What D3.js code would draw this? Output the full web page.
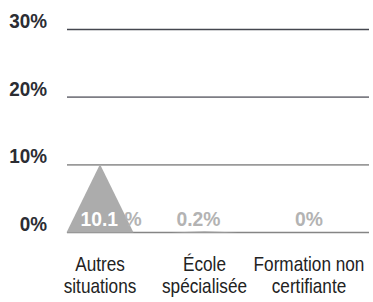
<!DOCTYPE html>
<html><head><meta charset="utf-8">
<script src="https://cdn.jsdelivr.net/npm/d3@7"></script>
<style>
html,body{margin:0;padding:0;background:#fff;}
svg{display:block;}
</style></head>
<body>
<svg id="chart" width="373" height="302"></svg>
<script>
const categories = [["Autres","situations"],["École","spécialisée"],["Formation non","certifiante"]];
const values = [10.1, 0.2, 0];
const valueLabels = ["10.1", "0.2", "0"];
const yTicks = [0, 10, 20, 30];
const yTickLabels = ["0%", "10%", "20%", "30%"];
const gridColors = ["#858585", "#9a9a9a", "#7d7d84", "#45474f"];

const svg = d3.select("#chart");
const gridLeft = 67, gridRight = 369;
const keys = categories.map(c => c.join(" "));

const y = d3.scaleLinear().domain([0, 30]).range([232.5, 29.5]);
const x = d3.scalePoint().domain(keys).range([100, 309]);
const halfW = 33.5;

const font = "'Liberation Sans',Arial,sans-serif";
const sxBold = 0.9, sxReg = 0.86;

// gridlines
svg.append("g").selectAll("line").data(yTicks).join("line")
  .attr("x1", gridLeft).attr("x2", gridRight)
  .attr("y1", d => y(d)).attr("y2", d => y(d))
  .attr("stroke", (d,i) => gridColors[i]).attr("stroke-width", 1.6);

// y labels
svg.append("g").selectAll("text").data(yTicks).join("text")
  .attr("transform", d => `translate(47,${y(d) - 1.5}) scale(${sxBold},1)`)
  .attr("text-anchor", "end")
  .attr("font-family", font).attr("font-weight", "bold").attr("font-size", 21)
  .attr("fill", "#2b2d33")
  .text((d,i) => yTickLabels[i]);

// triangles
const tri = (d, i) => {
  const cx = x(keys[i]);
  return `M${cx - halfW},${y(0)}L${cx},${y(d)}L${cx + halfW},${y(0)}Z`;
};
svg.append("g").selectAll("path").data(values).join("path")
  .attr("d", tri)
  .attr("fill", "#acacac");

// value labels: number white when inside a tall triangle, "%" gray
const labelX = (d, i) => x(keys[i]) + (d > 5 ? 11 : (i === 2 ? 0 : -6));
const labelY = y(0) - 6.5;
const t = svg.append("g").selectAll("text").data(values).join("text")
  .attr("transform", (d,i) => `translate(${labelX(d,i)},${labelY}) scale(0.92,1)`)
  .attr("text-anchor", "middle")
  .attr("font-family", font).attr("font-weight", "bold").attr("font-size", 21)
  .attr("fill", "#b3b3b3");
t.append("tspan").attr("fill", d => d > 5 ? "#ffffff" : "#b3b3b3").text((d,i) => valueLabels[i]);
t.append("tspan").attr("dx", d => d > 5 ? 7 : 0).text("%");

// category labels
const cg = svg.append("g");
categories.forEach((c, i) => {
  const tt = cg.append("text")
    .attr("transform", `translate(${x(keys[i])},271) scale(${sxReg},1)`)
    .attr("text-anchor", "middle")
    .attr("font-family", font).attr("font-size", 20)
    .attr("fill", "#222");
  c.forEach((line, j) => {
    tt.append("tspan").attr("x", 0).attr("dy", j === 0 ? 0 : 22.5).text(line);
  });
});
</script>
</body></html>
